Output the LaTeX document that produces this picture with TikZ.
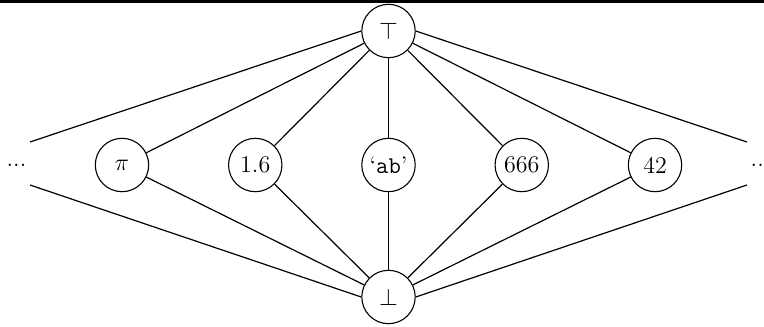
\documentclass[tikz,border=0pt]{standalone}
\begin{document}
\begin{tikzpicture}[x=0.5pt,y=-0.5pt,
  every node/.style={font=\fontsize{12}{14}\selectfont},
  val/.style={circle,draw,line width=0.55pt,minimum size=26.7pt,inner sep=0pt},
  edge/.style={line width=0.6pt}]
\useasboundingbox (0,0) rectangle (764,326);
\fill[black] (0,0) rectangle (764,2.7);
\node[val] (top) at (388.5,31) {$\top$};
\node[val] (bot) at (388.5,297) {$\bot$};
\node[val] (pi) at (122,165) {$\pi$};
\node[val] (a) at (255.25,165) {1.6};
\node[val] (b) at (388.5,165) {\textquoteleft\texttt{ab}\textquoteright};
\node[val] (c) at (521.75,165) {666};
\node[val] (d) at (655,165) {42};
\node[inner sep=0pt] (dl) at (16.5,165) {...};
\node[inner sep=0pt] (dr) at (760.5,165) {...};
\coordinate (lt) at (30,142);
\coordinate (lb) at (30,185);
\coordinate (rt) at (747,142);
\coordinate (rb) at (747,185);
\draw[edge] (lt) -- (top.west);
\draw[edge] (rt) -- (top.east);
\draw[edge] (lb) -- (bot.west);
\draw[edge] (rb) -- (bot.east);
\foreach \n in {pi,a,b,c,d} {
  \draw[edge] (top) -- (\n);
  \draw[edge] (\n) -- (bot);
}
\end{tikzpicture}
\end{document}
